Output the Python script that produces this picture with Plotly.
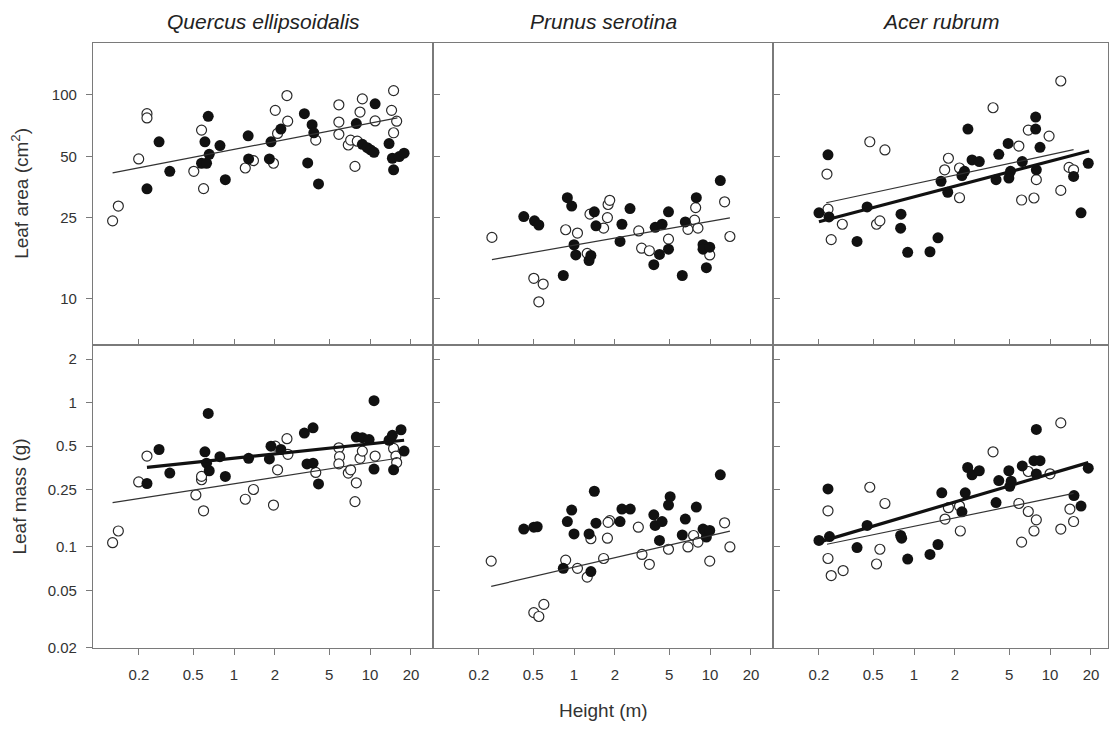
import numpy as np
import plotly.graph_objects as go

W, H = 1113, 736

species = ["Quercus ellipsoidalis", "Prunus serotina", "Acer rubrum"]
x_ticks = [0.2, 0.5, 1, 2, 5, 10, 20]
area_ticks = [10, 25, 50, 100]
mass_ticks = [0.02, 0.05, 0.1, 0.25, 0.5, 1, 2]

# ---------------- Quercus ellipsoidalis : leaf area ----------------
qe_area_open_h = [0.128, 0.141, 0.199, 0.229, 0.229, 0.506, 0.577, 0.597, 1.21, 1.39, 1.95, 2.01, 2.09, 2.45, 2.48,
                  3.99, 5.90, 5.90, 5.90, 6.92, 7.20, 7.75, 8.06, 8.78, 8.44, 10.9, 14.4, 14.9, 14.9, 15.7]
qe_area_open_y = [24.1, 28.5, 48.5, 80.9, 77.1, 42.2, 67.2, 34.7, 43.8, 47.6, 46.2, 84.0, 64.7, 99.3, 74.3,
                  60.0, 89.4, 73.6, 64.1, 56.8, 60.0, 44.6, 59.3, 95.6, 82.4, 74.5, 84.0, 105, 65.2, 74.3]
qe_area_fill_h = [0.229, 0.281, 0.337, 0.577, 0.611, 0.628, 0.646, 0.657, 0.788, 0.863, 1.27, 1.28, 1.82, 1.87, 2.21,
                  3.29, 3.48, 3.75, 3.86, 4.18, 7.93, 8.78, 9.55, 10.1, 10.7, 10.9, 13.8, 14.6, 14.9, 16.4, 17.8]
qe_area_fill_y = [34.6, 58.9, 42.2, 46.2, 58.9, 46.2, 78.5, 51.1, 56.4, 38.4, 63.0, 48.5, 48.5, 58.9, 68.0,
                  80.9, 46.4, 71.4, 65.2, 36.6, 72.3, 57.2, 55.1, 53.7, 52.3, 90.4, 57.7, 48.9, 42.9, 49.8, 51.8]

# ---------------- Prunus serotina : leaf area ----------------
ps_area_open_h = [0.249, 0.506, 0.593, 0.551, 0.868, 1.06, 1.25, 1.31, 1.76, 1.78, 1.83, 1.65, 2.99, 3.14, 3.58,
                  4.95, 6.88, 7.70, 7.84, 8.15, 9.95, 12.8, 14.0]
ps_area_open_y = [20.0, 12.6, 11.8, 9.66, 21.8, 21.0, 16.7, 26.0, 25.0, 29.0, 30.4, 22.2, 21.5, 17.7, 17.2,
                  19.6, 21.9, 24.3, 28.0, 22.2, 16.4, 29.9, 20.2]
ps_area_fill_h = [0.427, 0.512, 0.551, 0.834, 0.893, 0.961, 1.0, 1.03, 1.29, 1.33, 1.41, 1.45, 2.18, 2.25, 2.58,
                  3.86, 3.95, 4.25, 4.44, 4.95, 4.95, 6.25, 6.58, 7.93, 8.88, 8.88, 9.40, 9.95, 11.9]
ps_area_fill_y = [25.3, 24.1, 23.0, 13.0, 31.3, 28.5, 18.4, 16.4, 15.4, 16.3, 26.7, 22.8, 19.1, 23.2, 27.7,
                  14.7, 22.4, 16.5, 23.2, 26.7, 17.5, 13.0, 23.8, 31.3, 18.4, 17.5, 14.2, 17.9, 38.0]

# ---------------- Acer rubrum : leaf area ----------------
ar_area_open_h = [0.229, 0.233, 0.246, 0.297, 0.473, 0.530, 0.561, 0.611, 1.68, 1.79, 2.16, 2.16, 3.81, 5.90, 6.18,
                  6.92, 7.62, 7.93, 9.84, 12.0, 12.0, 13.8, 14.9]
ar_area_open_y = [40.9, 27.5, 19.5, 23.2, 58.9, 23.2, 24.1, 53.7, 42.9, 48.9, 43.8, 31.3, 86.5, 56.1, 30.5,
                  67.2, 31.2, 38.4, 62.8, 117, 34.0, 44.1, 42.9]
ar_area_fill_h = [0.200, 0.233, 0.237, 0.381, 0.452, 0.802, 0.797, 0.898, 1.31, 1.50, 1.58, 1.77, 2.25, 2.35, 2.49,
                  2.67, 3.02, 4.01, 4.20, 4.92, 4.98, 5.12, 6.25, 7.84, 7.84, 7.93, 8.44, 14.9, 16.9, 19.1]
ar_area_fill_y = [26.4, 50.8, 25.2, 19.1, 28.2, 26.0, 22.2, 16.9, 17.0, 19.9, 37.7, 33.3, 40.2, 42.2, 68.0,
                  48.0, 47.1, 38.4, 51.1, 57.8, 39.1, 42.2, 47.1, 77.9, 68.0, 42.9, 55.3, 39.8, 26.4, 46.2]

# ---------------- Quercus ellipsoidalis : leaf mass ----------------
qe_mass_open_h = [0.128, 0.141, 0.199, 0.229, 0.524, 0.577, 0.577, 0.597, 1.21, 1.39, 1.95, 2.01, 2.09, 2.45, 2.49,
                  3.99, 5.90, 5.97, 5.90, 6.92, 7.20, 7.93, 7.75, 8.44, 8.78, 10.9, 14.9, 15.5, 15.7]
qe_mass_open_y = [0.107, 0.129, 0.282, 0.426, 0.229, 0.292, 0.308, 0.178, 0.214, 0.250, 0.195, 0.499, 0.342, 0.562, 0.438,
                  0.328, 0.486, 0.422, 0.376, 0.325, 0.342, 0.278, 0.206, 0.411, 0.461, 0.426, 0.481, 0.426, 0.384]
qe_mass_fill_h = [0.229, 0.281, 0.337, 0.611, 0.628, 0.646, 0.657, 0.788, 0.863, 1.28, 1.82, 1.87, 2.21, 3.29,
                  3.44, 3.81, 3.81, 4.18, 7.93, 8.78, 9.84, 10.7, 10.7, 13.8, 14.6, 14.9, 16.9, 17.8]
qe_mass_fill_y = [0.275, 0.473, 0.325, 0.456, 0.380, 0.841, 0.337, 0.422, 0.308, 0.411, 0.407, 0.499, 0.473, 0.615,
                  0.376, 0.668, 0.380, 0.273, 0.577, 0.571, 0.554, 1.03, 0.346, 0.548, 0.593, 0.342, 0.648, 0.461]

# ---------------- Prunus serotina : leaf mass ----------------
ps_mass_open_h = [0.246, 0.506, 0.551, 0.600, 0.868, 1.06, 1.25, 1.33, 1.65, 1.76, 1.83, 1.78, 2.97, 3.16, 3.58,
                  4.95, 6.88, 7.57, 8.15, 9.95, 12.8, 14.0]
ps_mass_open_y = [0.0798, 0.0351, 0.0330, 0.0400, 0.0811, 0.0711, 0.0618, 0.114, 0.0832, 0.115, 0.152, 0.148, 0.137,
                  0.0887, 0.0758, 0.0964, 0.100, 0.120, 0.108, 0.0798, 0.147, 0.100]
ps_mass_fill_h = [0.427, 0.506, 0.536, 0.834, 0.893, 0.961, 1.0, 1.29, 1.33, 1.41, 1.45, 2.18, 2.25, 2.59,
                  3.86, 3.95, 4.25, 4.44, 4.95, 5.09, 6.25, 6.58, 7.93, 8.88, 9.29, 9.40, 9.95, 11.9]
ps_mass_fill_y = [0.133, 0.137, 0.138, 0.0711, 0.150, 0.180, 0.123, 0.123, 0.0675, 0.243, 0.146, 0.150, 0.183, 0.183,
                  0.167, 0.141, 0.111, 0.150, 0.195, 0.223, 0.121, 0.156, 0.189, 0.133, 0.128, 0.117, 0.130, 0.316]

# ---------------- Acer rubrum : leaf mass ----------------
ar_mass_open_h = [0.233, 0.233, 0.246, 0.301, 0.473, 0.530, 0.561, 0.611, 1.69, 1.79, 2.16, 2.19, 3.81, 5.90, 6.18,
                  6.92, 6.92, 7.62, 7.93, 10.0, 12.0, 12.0, 14.0, 14.9]
ar_mass_open_y = [0.178, 0.0832, 0.0634, 0.0686, 0.259, 0.0762, 0.0964, 0.200, 0.156, 0.187, 0.192, 0.129, 0.456,
                  0.200, 0.108, 0.176, 0.333, 0.129, 0.154, 0.321, 0.723, 0.133, 0.183, 0.150]
ar_mass_fill_h = [0.200, 0.233, 0.239, 0.381, 0.452, 0.797, 0.811, 0.898, 1.31, 1.50, 1.60, 2.25, 2.38, 2.48, 2.67,
                  3.02, 4.01, 4.20, 4.98, 5.06, 5.18, 6.25, 7.62, 7.93, 7.93, 8.44, 15.0, 16.9, 19.1]
ar_mass_fill_y = [0.111, 0.252, 0.118, 0.0990, 0.141, 0.120, 0.115, 0.0824, 0.0887, 0.104, 0.237, 0.175, 0.237, 0.355,
                  0.316, 0.337, 0.203, 0.288, 0.337, 0.263, 0.285, 0.364, 0.396, 0.651, 0.320, 0.396, 0.227, 0.192, 0.351]

# Fitted power-law lines: (coefficient a, exponent b, h_min, h_max, style)   y = a * h^b
qe_area_lines = [(54.0, 0.129, 0.128, 15.9, "thin")]
ps_area_lines = [(18.3, 0.117, 0.249, 14.0, "thin")]
ar_area_lines = [(31.6, 0.175, 0.200, 19.4, "thick"), (36.6, 0.143, 0.226, 14.9, "thin")]
qe_mass_lines = [(0.412, 0.099, 0.229, 17.8, "thick"), (0.274, 0.147, 0.128, 15.9, "thin")]
ps_mass_lines = [(0.0724, 0.218, 0.246, 14.0, "thin")]
ar_mass_lines = [(0.169, 0.278, 0.200, 19.1, "thick"), (0.139, 0.194, 0.229, 14.9, "thin")]

panels = [
    (qe_area_open_h, qe_area_open_y, qe_area_fill_h, qe_area_fill_y, qe_area_lines),
    (ps_area_open_h, ps_area_open_y, ps_area_fill_h, ps_area_fill_y, ps_area_lines),
    (ar_area_open_h, ar_area_open_y, ar_area_fill_h, ar_area_fill_y, ar_area_lines),
    (qe_mass_open_h, qe_mass_open_y, qe_mass_fill_h, qe_mass_fill_y, qe_mass_lines),
    (ps_mass_open_h, ps_mass_open_y, ps_mass_fill_h, ps_mass_fill_y, ps_mass_lines),
    (ar_mass_open_h, ar_mass_open_y, ar_mass_fill_h, ar_mass_fill_y, ar_mass_lines),
]

# ---------------- layout geometry (pixels) ----------------
col_px = [(93, 433), (433, 773), (773, 1108)]
row_px = [(43, 349), (349, 655)]
x_log0 = -1.037
px_per_dec = 136.0

def fx(p):
    return p / W

def fy(p):
    return 1 - p / H

FONT = "Liberation Sans, Arial, Helvetica, sans-serif"
AX = "#7a7a7a"

fig = go.Figure()
layout = dict(
    width=W, height=H, paper_bgcolor="white", plot_bgcolor="white",
    margin=dict(l=0, r=0, t=0, b=0), showlegend=False,
    font=dict(family=FONT, color="#333"),
)

for i, (oh, oy, fh, fyv, lines) in enumerate(panels):
    r, c = divmod(i, 3)
    k = i + 1
    xn = "x" if k == 1 else f"x{k}"
    yn = "y" if k == 1 else f"y{k}"
    x0, x1 = col_px[c]
    y0, y1 = row_px[r]

    fig.add_trace(go.Scatter(x=oh, y=oy, mode="markers", xaxis=xn, yaxis=yn,
                             marker=dict(symbol="circle", size=10, color="white",
                                         line=dict(color="#2a2a2a", width=1.2))))
    fig.add_trace(go.Scatter(x=fh, y=fyv, mode="markers", xaxis=xn, yaxis=yn,
                             marker=dict(symbol="circle", size=11, color="#111111",
                                         line=dict(color="#111111", width=0))))
    for a, b, hmin, hmax, style in lines:
        hh = np.array([hmin, hmax])
        fig.add_trace(go.Scatter(x=hh, y=a * hh ** b, mode="lines", xaxis=xn, yaxis=yn,
                                 line=dict(color="#111" if style == "thick" else "#333",
                                           width=3.2 if style == "thick" else 1.2)))

    xr = [x_log0, x_log0 + (x1 - x0) / px_per_dec]
    xa = dict(type="log", range=xr, domain=[fx(x0), fx(x1)], anchor=yn,
              tickvals=x_ticks, ticktext=[f"{v:g}" for v in x_ticks],
              showline=True, mirror=True, linecolor=AX, linewidth=1.2,
              showgrid=False, zeroline=False, ticklen=6, tickwidth=1.2, tickcolor=AX,
              tickfont=dict(size=15, color="#333", family=FONT))
    if r == 0:
        xa.update(ticks="inside", showticklabels=False)
    else:
        xa.update(ticks="outside", showticklabels=True, ticklabelstandoff=7)

    if r == 0:
        yr = [0.772, 2.257]
        yt = area_ticks
    else:
        yr = [np.log10(0.02), 0.397]
        yt = mass_ticks
    ya = dict(type="log", range=yr, domain=[fy(y1), fy(y0)], anchor=xn,
              tickvals=yt, ticktext=[f"{v:g}" for v in yt],
              showline=True, mirror=True, linecolor=AX, linewidth=1.2,
              showgrid=False, zeroline=False, ticklen=6, tickwidth=1.2, tickcolor=AX,
              tickfont=dict(size=15, color="#333", family=FONT))
    if c == 0:
        ya.update(ticks="outside", showticklabels=True, ticklabelstandoff=6)
    else:
        ya.update(ticks="inside", showticklabels=False, ticklen=7)

    layout["xaxis" if k == 1 else f"xaxis{k}"] = xa
    layout["yaxis" if k == 1 else f"yaxis{k}"] = ya

annotations = []
for c, name in enumerate(species):
    x0, x1 = col_px[c]
    annotations.append(dict(text=f"<i>{name}</i>", x=fx((x0 + x1) / 2), y=fy(22),
                            xref="paper", yref="paper", showarrow=False,
                            xanchor="center", yanchor="middle",
                            font=dict(size=21, color="#222", family=FONT)))
annotations.append(dict(text="Leaf area (cm<sup>2</sup>)", x=fx(20), y=fy(196), textangle=-90,
                        xref="paper", yref="paper", showarrow=False, xanchor="center", yanchor="middle",
                        font=dict(size=19, color="#333", family=FONT)))
annotations.append(dict(text="Leaf mass (g)", x=fx(20), y=fy(502), textangle=-90,
                        xref="paper", yref="paper", showarrow=False, xanchor="center", yanchor="middle",
                        font=dict(size=19, color="#333", family=FONT)))
annotations.append(dict(text="Height (m)", x=fx(603), y=fy(718),
                        xref="paper", yref="paper", showarrow=False, xanchor="center", yanchor="middle",
                        font=dict(size=19, color="#333", family=FONT)))
layout["annotations"] = annotations

fig.update_layout(**layout)
fig.write_html("out.html")
